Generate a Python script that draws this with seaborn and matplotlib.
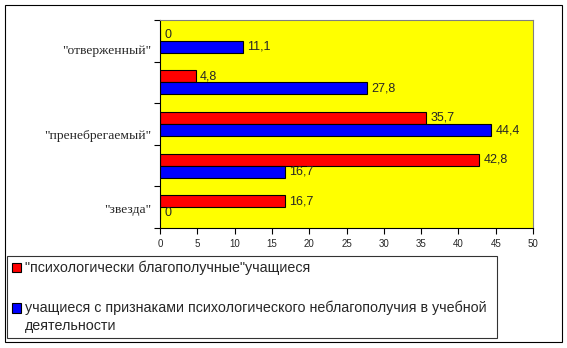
import matplotlib
matplotlib.use("Agg")
import matplotlib.pyplot as plt
import seaborn as sns
import pandas as pd
from matplotlib.patches import Patch, Rectangle

categories = ['"отверженный"', ' ', '"пренебрегаемый"', '  ', '"звезда"']
label_texts = ['"отверженный"', '"пренебрегаемый"', '"звезда"']
label_cat_idx = [0, 2, 4]
series_names = ['"психологически благополучные"учащиеся',
                'учащиеся с признаками психологического неблагополучия в учебной\nдеятельности']
red_values = [0, 4.8, 35.7, 42.8, 16.7]
blue_values = [11.1, 27.8, 44.4, 16.7, 0]
x_ticks = [0, 5, 10, 15, 20, 25, 30, 35, 40, 45, 50]

rows = []
for c, v in zip(categories, red_values):
    rows.append({"cat": c, "val": v, "series": series_names[0]})
for c, v in zip(categories, blue_values):
    rows.append({"cat": c, "val": v, "series": series_names[1]})
df = pd.DataFrame(rows)

sns.set_theme(style="white")
plt.rcParams['font.family'] = ['Liberation Sans', 'DejaVu Sans']

fig = plt.figure(figsize=(5.67, 3.48), dpi=100)
fig.patch.set_facecolor("white")
ax = fig.add_axes([160/567, 1-228/348, 373/567, 208/348])
ax.set_facecolor("#FFFF00")

colors = ["#FF0000", "#0000FF"]
sns.barplot(data=df, y="cat", x="val", hue="series", order=categories,
            hue_order=series_names, palette=colors, saturation=1, orient="h",
            width=0.58, edgecolor="black", linewidth=0.8, ax=ax, legend=False)

ax.set_xlim(0, 50)
ax.set_ylim(4.5, -0.5)
ax.set_xticks(x_ticks)
ax.set_xticklabels([str(t) for t in x_ticks], fontsize=7)
ax.set_xlabel("")
ax.set_ylabel("")

# y major ticks at boundaries, labels on minor ticks
ax.set_yticks([-0.5, 0.5, 1.5, 2.5, 3.5, 4.5])
ax.set_yticklabels([])
offsets = [0.22, 0.26, 0.02]
ax.set_yticks([i + o for i, o in zip(label_cat_idx, offsets)], minor=True)
ax.set_yticklabels(label_texts, minor=True, fontsize=9.7,
                   family=['Liberation Serif', 'DejaVu Serif'])
ax.tick_params(axis="y", which="minor", length=0, pad=6)
ax.tick_params(axis="y", which="major", length=4, width=0.8, color="black", direction="out", left=True)
ax.tick_params(axis="x", which="major", length=4, width=0.8, color="black", direction="out", bottom=True, pad=4)

for s in ["left", "bottom"]:
    ax.spines[s].set_color("black")
    ax.spines[s].set_linewidth(0.8)
for s in ["top", "right"]:
    ax.spines[s].set_color("#808080")
    ax.spines[s].set_linewidth(0.8)

def fmt(v):
    s = f"{v:g}"
    return s.replace(".", ",")

for cont, vals in zip(ax.containers, [red_values, blue_values]):
    ax.bar_label(cont, labels=[fmt(v) for v in vals], padding=3, fontsize=9)

handles = [Patch(facecolor=colors[0], edgecolor="black", linewidth=0.8),
           Patch(facecolor=colors[1], edgecolor="black", linewidth=0.8)]
leg = fig.legend(handles=handles, labels=series_names, loc="upper left",
                 bbox_to_anchor=(7/567, 1-256/348, 490/567, 0), mode="expand",
                 borderaxespad=0, fontsize=10.3, frameon=True, fancybox=False,
                 edgecolor="black", handlelength=0.65, handleheight=0.65,
                 handletextpad=0.25, labelspacing=1.75, borderpad=0.35)
leg.get_frame().set_linewidth(0.8)
leg.get_texts()[1].set_linespacing(1.35)
hb = leg.legend_handles[1]
hb.set_y(hb.get_y() + 6.5)

fig.patches.append(Rectangle((5/567, 1-342/348), 557/567, 337/348,
                             transform=fig.transFigure, fill=False,
                             edgecolor="black", linewidth=0.8))

fig.savefig("out.png", dpi=100)
